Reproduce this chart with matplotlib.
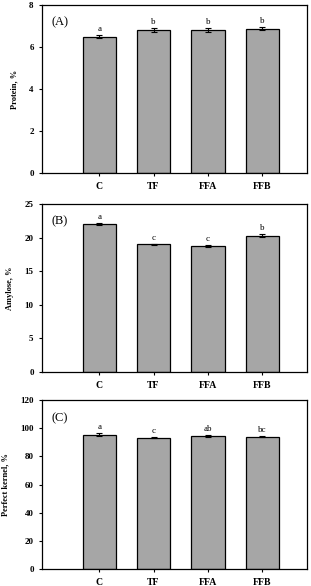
import matplotlib.pyplot as plt
import numpy as np

groups = ["C", "TF", "FFA", "FFB"]

protein = [6.5, 6.8, 6.8, 6.88]
protein_err = [0.05, 0.1, 0.1, 0.07]
protein_letters = ["a", "b", "b", "b"]

amylose = [22.0, 19.0, 18.7, 20.3]
amylose_err = [0.15, 0.05, 0.15, 0.25]
amylose_letters = ["a", "c", "c", "b"]

kernel = [95.3, 93.2, 94.5, 93.8]
kernel_err = [1.0, 0.3, 0.8, 0.3]
kernel_letters = ["a", "c", "ab", "bc"]

plt.rcParams['font.family'] = ['Liberation Serif', 'DejaVu Serif']

fig = plt.figure(figsize=(3.11, 5.86), dpi=100)
W, H = 311, 586

panels = [
    (protein, protein_err, protein_letters, "Protein, %", "(A)", 8, [0, 2, 4, 6, 8], (5, 173)),
    (amylose, amylose_err, amylose_letters, "Amylose, %", "(B)", 25, [0, 5, 10, 15, 20, 25], (204, 372)),
    (kernel, kernel_err, kernel_letters, "Perfect kernel, %", "(C)", 120, [0, 20, 40, 60, 80, 100, 120], (400, 569)),
]

x = np.arange(1, 5)
for vals, errs, letters, ylabel, tag, ymax, yticks, (top, bot) in panels:
    ax = fig.add_axes([42 / W, 1 - bot / H, (307 - 42) / W, (bot - top) / H])
    ax.bar(x, vals, width=0.61, color="#a6a6a6", edgecolor="black", linewidth=0.9,
           yerr=errs, error_kw=dict(ecolor="black", elinewidth=0.8, capsize=2, capthick=0.8))
    for xi, v, e, lt in zip(x, vals, errs, letters):
        ax.text(xi, v + e + ymax * 0.012, lt, ha="center", va="bottom", fontsize=6.5)
    ax.set_xlim(-0.05, 4.82)
    ax.set_ylim(0, ymax)
    ax.set_yticks(yticks)
    ax.set_xticks(x)
    ax.set_xticklabels(groups, fontweight="bold", fontsize=7)
    ax.tick_params(axis="y", labelsize=6.5, length=2.5, width=0.8)
    ax.tick_params(axis="x", length=2.5, width=0.8, pad=4)
    for lbl in ax.get_yticklabels():
        lbl.set_fontweight("bold")
    ax.set_ylabel(ylabel, fontweight="bold", fontsize=6, labelpad=8)
    ax.text(0.035, 0.93, tag, transform=ax.transAxes, ha="left", va="top", fontsize=9)
    for s in ax.spines.values():
        s.set_linewidth(0.9)

fig.savefig("out.png", dpi=100)
